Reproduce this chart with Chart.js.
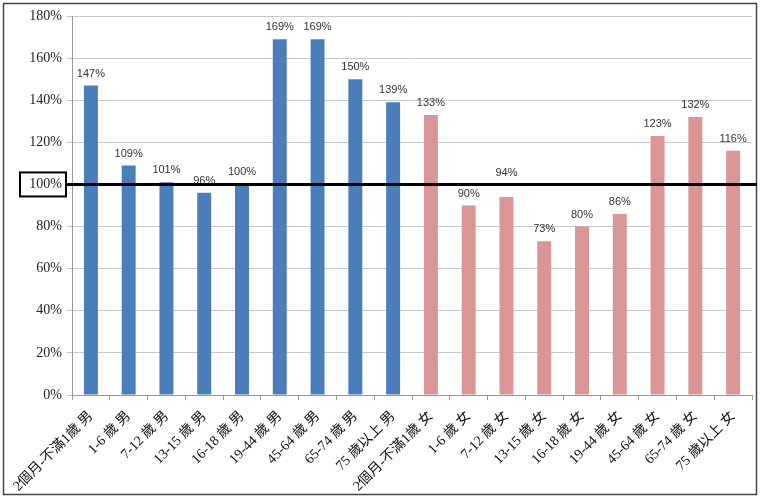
<!DOCTYPE html>
<html>
<head>
<meta charset="utf-8">
<script src="https://cdn.jsdelivr.net/npm/chart.js@4"></script>
<style>
  html, body { margin: 0; padding: 0; background: #fff; }
  #wrap { width: 760px; height: 498px; }
</style>
</head>
<body>
<div id="wrap"><canvas id="ratioChart" width="760" height="498"></canvas></div>
<script>
// categories (male first, then female)
var categories = [
	'2個月-不滿1歲 男', '1-6 歲 男', '7-12 歲 男', '13-15 歲 男', '16-18 歲 男',
	'19-44 歲 男', '45-64 歲 男', '65-74 歲 男', '75 歲以上 男',
	'2個月-不滿1歲 女', '1-6 歲 女', '7-12 歲 女', '13-15 歲 女', '16-18 歲 女',
	'19-44 歲 女', '45-64 歲 女', '65-74 歲 女', '75 歲以上 女'
];
var groups = ['m', 'm', 'm', 'm', 'm', 'm', 'm', 'm', 'm',
	'f', 'f', 'f', 'f', 'f', 'f', 'f', 'f', 'f'];
var values = [147, 109, 101, 96, 100, 169, 169, 150, 139,
	133, 90, 94, 73, 80, 86, 123, 132, 116];
var yTicks = [0, 20, 40, 60, 80, 100, 120, 140, 160, 180];
var refValue = 100;

var groupColors = { m: '#4a7ebb', f: '#da9694' };
var serifFont = "'Liberation Serif', 'Noto Sans CJK TC', serif";
var sansFont = "'Liberation Sans', Arial, sans-serif";

var frame = {
	id: 'frame',
	beforeDraw: function(chart){
		var ctx = chart.ctx;
		ctx.save();
		ctx.fillStyle = '#fff';
		ctx.fillRect(0, 0, chart.width, chart.height);
		ctx.strokeStyle = '#444';
		ctx.lineWidth = 1.5;
		ctx.strokeRect(3.5, 3.5, chart.width - 7, chart.height - 7);
		ctx.restore();
	}
};

var overlay = {
	id: 'overlay',
	afterDatasetsDraw: function(chart){
		var ctx = chart.ctx;
		var yScale = chart.scales.y;
		var lineY = yScale.getPixelForValue(refValue);
		var bars = chart.getDatasetMeta(0).data;

		ctx.save();
		ctx.font = '11px ' + sansFont;
		ctx.fillStyle = '#333';
		ctx.textAlign = 'center';
		ctx.textBaseline = 'middle';
		for(var i = 0; i < bars.length; i++){
			var cy = bars[i].y - 12;
			// lift a label that would sit right on the reference line
			if(cy - lineY > 0 && cy - lineY < 6){
				cy = lineY - 11;
			}
			ctx.fillText(values[i] + '%', bars[i].x, cy);
		}

		// reference line with boxed label
		ctx.strokeStyle = '#000';
		ctx.lineWidth = 3;
		ctx.beginPath();
		ctx.moveTo(66, lineY);
		ctx.lineTo(757, lineY);
		ctx.stroke();
		ctx.lineWidth = 2;
		ctx.strokeRect(20, lineY - 12, 46, 24);
		ctx.restore();
	}
};

var ctx = document.getElementById('ratioChart');
var ratioChart = new Chart(ctx, {
	type: 'bar',
	data: {
		labels: categories,
		datasets: [{
			data: values,
			backgroundColor: groups.map(function(g){ return groupColors[g]; }),
			categoryPercentage: 1,
			barPercentage: 0.37
		}]
	},
	options: {
		responsive: false,
		animation: false,
		devicePixelRatio: 1,
		layout: { padding: { top: 16, right: 8, left: 0, bottom: 0 } },
		plugins: {
			legend: { display: false },
			tooltip: { enabled: false }
		},
		scales: {
			x: {
				grid: { offset: true, drawOnChartArea: false, drawTicks: true, tickLength: 5, color: '#999' },
				border: { color: '#999' },
				ticks: {
					autoSkip: false,
					maxRotation: 45,
					minRotation: 45,
					padding: 8,
					color: '#111',
					font: { family: serifFont, size: 14 }
				},
				afterFit: function(s){ s.height = 103; }
			},
			y: {
				min: 0,
				max: 180,
				afterBuildTicks: function(s){
					s.ticks = yTicks.map(function(v){ return { value: v }; });
				},
				grid: { color: '#c8c8c8', tickLength: 5 },
				border: { color: '#999' },
				ticks: {
					padding: 5,
					color: '#222',
					font: { family: serifFont, size: 14 },
					callback: function(v){ return v + '%'; }
				},
				afterFit: function(s){ s.width = 72; }
			}
		}
	},
	plugins: [frame, overlay]
});
</script>
</body>
</html>
